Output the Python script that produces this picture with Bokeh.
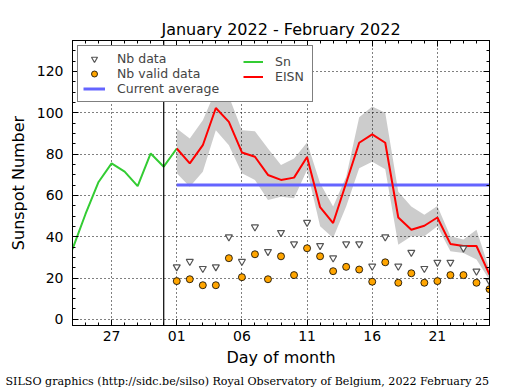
from bokeh.plotting import figure
from bokeh.models import (FixedTicker, LinearAxis, Legend, LegendItem, Span,
                          Title, Range1d)
from bokeh.embed import file_html
from bokeh.resources import INLINE

# x = day number, February d -> d, January d -> d - 31
sn_days = [-7, -6, -5, -4, -3, -2, -1, 0, 1]          # Jan 24 .. Feb 1
sn_values = [34, 51, 66.5, 75.5, 71.5, 64.5, 80.3, 73.9, 82.7]

days = list(range(1, 26))                             # Feb 1 .. Feb 25
eisn = [82.7, 75.5, 84.3, 102.3, 95.6, 80.8, 78.7, 69.9, 67.5, 68.6,
        78.6, 54.3, 46.6, 66.0, 85.5, 89.5, 85.5, 49.3, 43.4, 45.3,
        49.3, 36.5, 35.5, 35.5, 21.7]
eisn_upper = [92.4, 87.6, 96.4, 111.0, 108.0, 91.6, 91.0, 82.7, 74.7, 77.9,
              85.6, 65.9, 54.6, 69.0, 97.8, 103.0, 100.0, 61.8, 54.6, 50.6,
              54.9, 40.2, 38.6, 43.4, 24.0]
eisn_lower = [70.7, 64.2, 71.5, 91.6, 84.3, 70.7, 67.5, 57.8, 59.4, 58.6,
              72.3, 45.0, 39.4, 54.6, 73.1, 76.3, 72.6, 36.1, 40.2, 40.2,
              45.0, 32.9, 32.1, 28.9, 19.0]
nb_data = [25.4, 28.0, 24.6, 25.4, 39.9, 28.0, 44.7, 32.8, 42.0, 36.5,
           46.9, 35.7, 29.7, 36.5, 36.5, 25.7, 39.9, 25.7, 32.4, 24.6,
           27.6, 27.6, 34.5, 23.3, 18.5]
nb_valid = [18.5, 19.4, 16.5, 16.5, 29.6, 20.4, 31.5, 19.4, 30.5, 21.4,
            34.4, 30.5, 23.3, 25.4, 24.1, 18.2, 27.6, 17.7, 22.3, 17.7,
            18.5, 21.4, 21.4, 17.7, 14.6]
avg_days = [1, 25]
current_average = 65.0
month_start = 0

x_tick_pos = [-4, 1, 6, 11, 16, 21]
x_tick_labels = ["27", "01", "06", "11", "16", "21"]
x_minor = list(range(-7, 26))
y_ticks = [0, 20, 40, 60, 80, 100, 120]
y_minor = list(range(0, 136, 5))

FONT = "DejaVu Sans"

p = figure(width=515, height=390, x_range=Range1d(-7, 25), y_range=Range1d(-3, 135),
           output_backend="svg", toolbar_location=None, title=None,
           min_border_left=72, min_border_right=26, min_border_top=40, min_border_bottom=64)
p.background_fill_color = "white"
p.border_fill_color = "white"
p.outline_line_color = "black"
p.outline_line_width = 1
p.outline_line_alpha = 1

xt = FixedTicker(ticks=x_tick_pos, minor_ticks=x_minor)
yt = FixedTicker(ticks=y_ticks, minor_ticks=y_minor)

p.xaxis.ticker = xt
p.yaxis.ticker = yt
p.xaxis.major_label_overrides = {k: v for k, v in zip(x_tick_pos, x_tick_labels)}
p.xgrid.ticker = xt
p.ygrid.ticker = yt
for g in (p.xgrid, p.ygrid):
    g.grid_line_color = "black"
    g.grid_line_dash = "1 3"
    g.grid_line_width = 1
    g.grid_line_alpha = 1

def style_axis(ax):
    ax.major_tick_in = 6
    ax.major_tick_out = 0
    ax.minor_tick_in = 3
    ax.minor_tick_out = 0
    ax.axis_line_color = "black"
    ax.major_tick_line_color = "black"
    ax.minor_tick_line_color = "black"
    ax.major_label_text_font = FONT
    ax.major_label_text_font_size = "14px"
    ax.major_label_text_color = "black"
    ax.axis_label_text_font = FONT
    ax.axis_label_text_font_size = "16px"
    ax.axis_label_text_font_style = "normal"
    ax.axis_label_text_color = "black"

style_axis(p.xaxis[0])
style_axis(p.yaxis[0])
p.xaxis.axis_label = "Day of month"
p.yaxis.axis_label = "Sunspot Number"
p.xaxis.major_label_standoff = 5
p.xaxis.axis_label_standoff = 4
p.yaxis.major_label_standoff = 9
p.yaxis.axis_label_standoff = 6

top_ax = LinearAxis(ticker=xt)
right_ax = LinearAxis(ticker=yt)
for ax in (top_ax, right_ax):
    style_axis(ax)
    ax.major_label_text_font_size = "0px"
    ax.major_label_text_color = None
    ax.major_label_standoff = 0
p.add_layout(top_ax, "above")
p.add_layout(right_ax, "right")

p.add_layout(Title(text="January 2022 - February 2022", text_font=FONT,
                   text_font_size="16px", text_font_style="normal", align="center",
                   standoff=4, text_color="black"), "above")

# data
p.varea(x=days, y1=eisn_lower, y2=eisn_upper, fill_color="black", fill_alpha=0.2)
r_avg = p.line(avg_days, [current_average] * len(avg_days), line_color="#6464ff", line_width=3)
r_sn = p.line(sn_days, sn_values, line_color="#33cc33", line_width=2)
r_eisn = p.line(days, eisn, line_color="red", line_width=2)
r_tri = p.scatter(days, nb_data, marker="inverted_triangle", size=7,
                  fill_color="white", line_color="#555555", line_width=1.2)
r_circ = p.scatter(days, nb_valid, marker="circle", size=7,
                   fill_color="orange", line_color="black", line_width=0.8)

p.add_layout(Span(location=month_start, dimension="height", line_color="black", line_width=1.2))

common = dict(label_text_font=FONT, label_text_font_size="12.5px", label_height=15,
              glyph_height=15, spacing=0, padding=5, label_standoff=12)
leg1 = Legend(items=[LegendItem(label="Nb data", renderers=[r_tri]),
                     LegendItem(label="Nb valid data", renderers=[r_circ]),
                     LegendItem(label="Current average", renderers=[r_avg])],
              location="top_left", margin=5, glyph_width=22, label_width=190,
              border_line_color="black", border_line_width=1,
              background_fill_color="white", background_fill_alpha=1, **common)
leg2 = Legend(items=[LegendItem(label="Sn", renderers=[r_sn]),
                     LegendItem(label="EISN", renderers=[r_eisn])],
              location=(171, 241), margin=0, glyph_width=20,
              border_line_color=None, background_fill_alpha=0, **common)
p.add_layout(leg1, "center")
p.add_layout(leg2, "center")

p.add_layout(Title(text="SILSO graphics (http://sidc.be/silso) Royal Observatory of Belgium, 2022 February 25",
                   text_font="DejaVu Serif", text_font_size="11.1px", text_font_style="normal",
                   align="left", offset=-67, standoff=6, text_color="black"), "below")

open("out.html", "w").write(file_html(p, INLINE))
